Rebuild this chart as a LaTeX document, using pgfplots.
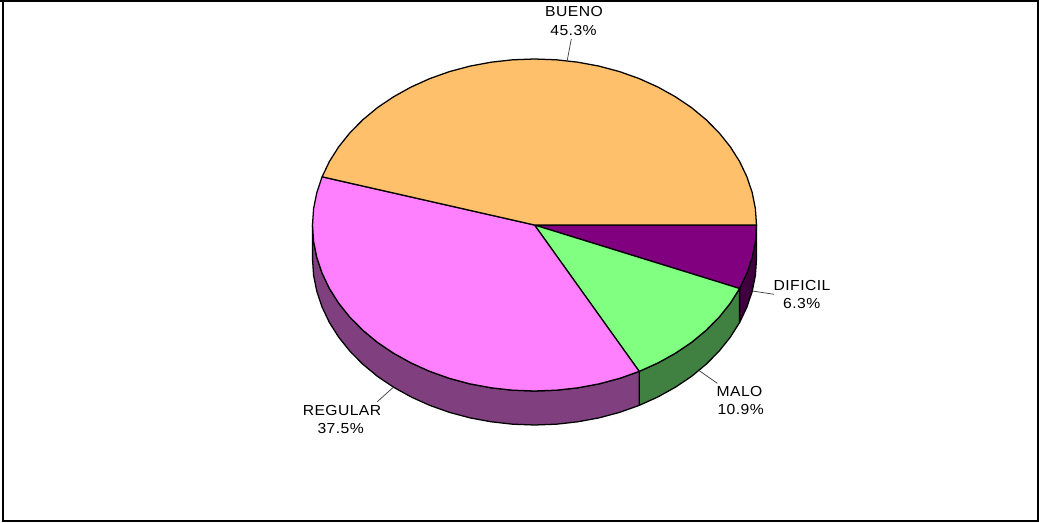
\documentclass[border=0pt]{standalone}
\usepackage{pgfplots}
\pgfplotsset{compat=1.18}
\usepackage{fontspec}
\setmainfont[FakeStretch=1.08,LetterSpace=3]{Liberation Sans}
\definecolor{bueno}{RGB}{255,192,108}
\definecolor{regular}{RGB}{255,128,255}
\definecolor{malo}{RGB}{128,255,128}
\definecolor{dificil}{RGB}{128,0,128}
\definecolor{regularwall}{RGB}{128,64,128}
\definecolor{malowall}{RGB}{64,128,64}
\definecolor{dificilwall}{RGB}{64,0,64}
\tikzset{slicelabel/.style={anchor=base, inner sep=0pt, font=\fontsize{10.9pt}{12pt}\selectfont}}
\begin{document}
\begin{tikzpicture}
\begin{axis}[
  name=pie,
  scale only axis, width=779.25pt, height=392.25pt,
  xmin=0.5, xmax=1039.5, ymin=0, ymax=523, y dir=reverse,
  hide axis, clip=false,
  every axis plot/.append style={line width=0.95pt, line join=round, mark=none},
  leader/.style={draw=black!75, line width=0.55pt},
]
% outer frame
\draw[line width=1.5pt] (axis cs:0.5,1) -- (axis cs:1039.5,1);
\draw[line width=1.5pt] (axis cs:3.5,0) -- (axis cs:3.5,521.5);
\draw[line width=1.5pt] (axis cs:2.5,520.7) -- (axis cs:1039.5,520.7);
\draw[line width=1.2pt] (axis cs:1038.7,0) -- (axis cs:1038.7,521.5);

% side walls of the front half
\addplot[fill=dificilwall, draw=black] coordinates {
 (757.0,225.0)(755.9,241.3)(752.7,257.4)(747.4,273.2)(740.1,288.5)
 (740.1,322.5)(747.4,307.2)(752.7,291.4)(755.9,275.3)(757.0,259.0)} -- cycle;
\addplot[fill=malowall, draw=black] coordinates {
 (740.1,288.5)(730.8,303.2)(719.6,317.2)(706.6,330.3)(692.0,342.4)(675.8,353.3)(658.3,363.0)(639.7,371.4)
 (639.7,405.4)(658.3,397.0)(675.8,387.3)(692.0,376.4)(706.6,364.3)(719.6,351.2)(730.8,337.2)(740.1,322.5)} -- cycle;
\addplot[fill=regularwall, draw=black] coordinates {
 (639.7,371.4)(620.0,378.4)(599.4,383.9)(578.3,387.8)(556.8,390.2)(535.0,391.0)(513.2,390.2)(491.7,387.8)
 (470.6,383.9)(450.0,378.4)(430.3,371.4)(411.7,363.0)(394.2,353.3)(378.0,342.4)(363.4,330.3)(350.4,317.2)
 (339.2,303.2)(329.9,288.5)(322.6,273.2)(317.3,257.4)(314.1,241.3)(313.0,225.0)
 (313.0,259.0)(314.1,275.3)(317.3,291.4)(322.6,307.2)(329.9,322.5)(339.2,337.2)(350.4,351.2)(363.4,364.3)
 (378.0,376.4)(394.2,387.3)(411.7,397.0)(430.3,405.4)(450.0,412.4)(470.6,417.9)(491.7,421.8)(513.2,424.2)
 (535.0,425.0)(556.8,424.2)(578.3,421.8)(599.4,417.9)(620.0,412.4)(639.7,405.4)} -- cycle;

% top faces of the four slices
\addplot[fill=dificil, draw=black] coordinates {
 (535.0,225.0)(757.0,225.0)(755.9,241.3)(752.7,257.4)(747.4,273.2)(740.1,288.5)} -- cycle;
\addplot[fill=malo, draw=black] coordinates {
 (535.0,225.0)(740.1,288.5)(730.8,303.2)(719.6,317.2)(706.6,330.3)(692.0,342.4)(675.8,353.3)(658.3,363.0)(639.7,371.4)} -- cycle;
\addplot[fill=regular, draw=black] coordinates {
 (535.0,225.0)(639.7,371.4)(620.0,378.4)(599.4,383.9)(578.3,387.8)(556.8,390.2)(535.0,391.0)(513.2,390.2)(491.7,387.8)
 (470.6,383.9)(450.0,378.4)(430.3,371.4)(411.7,363.0)(394.2,353.3)(378.0,342.4)(363.4,330.3)(350.4,317.2)
 (339.2,303.2)(329.9,288.5)(322.6,273.2)(317.3,257.4)(314.1,241.3)(313.0,225.0)(314.1,208.7)(317.3,192.6)(322.6,176.8)} -- cycle;
\addplot[fill=bueno, draw=black] coordinates {
 (535.0,225.0)(322.6,176.8)(329.9,161.5)(339.2,146.8)(350.4,132.8)(363.4,119.7)(378.0,107.6)(394.2,96.7)(411.7,87.0)
 (430.3,78.6)(450.0,71.6)(470.6,66.1)(491.7,62.2)(513.2,59.8)(535.0,59.0)(556.8,59.8)(578.3,62.2)(599.4,66.1)
 (620.0,71.6)(639.7,78.6)(658.3,87.0)(675.8,96.7)(692.0,107.6)(706.6,119.7)(719.6,132.8)(730.8,146.8)(740.1,161.5)
 (747.4,176.8)(752.7,192.6)(755.9,208.7)(757.0,225.0)} -- cycle;

% leader lines
\addplot[leader] coordinates {(571.8,39.0)(567.8,60.0)};
\addplot[leader] coordinates {(752.8,291.0)(774.5,294.3)};
\addplot[leader] coordinates {(699.8,370.7)(717.8,383.3)};
\addplot[leader] coordinates {(377.8,401.7)(393.8,387.3)};

% slice labels
\node[slicelabel] at (axis cs:574.5,16.7) {BUENO};
\node[slicelabel] at (axis cs:574,36) {45.3\%};
\node[slicelabel] at (axis cs:802.5,290.7) {DIFICIL};
\node[slicelabel] at (axis cs:802.2,309) {6.3\%};
\node[slicelabel] at (axis cs:740,397) {MALO};
\node[slicelabel] at (axis cs:741.2,415) {10.9\%};
\node[slicelabel] at (axis cs:342.5,416) {REGULAR};
\node[slicelabel] at (axis cs:341.2,434) {37.5\%};
\end{axis}
% the page is exactly the axis rectangle
\pgfresetboundingbox
\path[use as bounding box] (pie.south west) rectangle (pie.north east);
\end{tikzpicture}
\end{document}
